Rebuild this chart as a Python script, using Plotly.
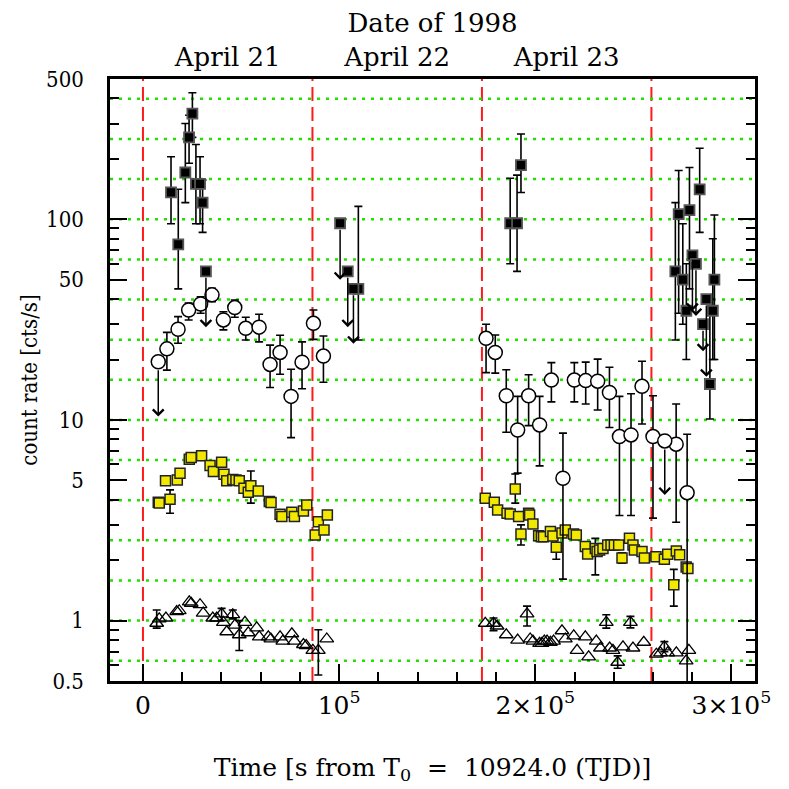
import math
import plotly.graph_objects as go

# ---- data ----
# black squares with error bars
blk_x = [14300, 18000, 21600, 23500, 25200, 27000, 29100, 30400, 109800,
         187200, 190700, 192700,
         271400, 273100, 275200, 277000, 278600, 283800, 289000, 290500, 291300]
blk_y = [136, 75, 171, 256, 336, 150, 150, 121, 45,
         95.5, 95.5, 186,
         55, 106, 50, 35, 111, 141, 15.1, 35, 50]
blk_lo = [95, 45, 121, 190, 256, 95, 95, 86, 25,
          60, 55, 136,
          25, 34, 30, 20, 45, 86, 10.1, 20, 20]
blk_hi = [205, 141, 300, 330, 427, 236, 205, 157, 116,
          160, 166, 266,
          121, 175, 95, 60, 181, 226, 40, 80, 105]
# black squares that are upper limits: x, value, arrow tip
blk_ul_x = [32100, 100500, 104400, 107300, 280100, 281900, 285500, 287200]
blk_ul_y = [55, 95.5, 55, 45, 66, 60, 30, 40]
blk_ul_to = [29, 50, 29, 24, 35, 33, 22, 16.4]

# open circles
cir_x = [12200, 17900, 23300, 29400, 35200, 41000, 46800, 52400, 59200, 64800,
         69900, 75500, 81100, 86900, 92000,
         174900, 179600, 185200, 191000, 196600, 202200, 208200, 214100, 219900,
         225700, 231800, 237800, 242900, 248800, 254400, 260000, 271800, 277400]
cir_y = [22.6, 28.3, 35.3, 37.8, 42, 31.5, 36.3, 28.6, 29, 18.9,
         21.7, 13.1, 19.4, 30.3, 20.8,
         25.5, 21.7, 13.2, 8.91, 13.2, 9.44, 15.8, 5.12, 15.8,
         15.7, 15.6, 13.7, 8.26, 8.42, 14.7, 8.26, 7.57, 4.34]
cir_lo = [17.7, 24.1, 31.5, 34.0, 38.8, 28.1, 32.5, 25, 24.5, 14.5,
          16.9, 8.16, 14.3, 25.2, 15.4,
          17.2, 17.1, 8.68, 5.43, 9.37, 5.9, 12.3, 1.61, 12.3,
          12.0, 11.2, 9.16, 3.34, 3.34, 9.55, 3.24, 3.09, 0.45]
cir_hi = [27.3, 32.7, 38.2, 41.1, 45.3, 34.6, 39.6, 32.5, 33.6, 23.6,
          26.4, 17.9, 24.5, 35.3, 26.2,
          30, 26.5, 17.8, 13.1, 16.8, 13.1, 19.3, 8.59, 19.3,
          19.4, 20.1, 18.3, 13.1, 13.5, 19.6, 13.2, 12.0, 8.49]
cir_ul_x = [7800, 266000]
cir_ul_y = [19.5, 7.86]
cir_ul_to = [10.4, 4.23]

# yellow squares (None = no visible error bar)
yel_x = [7800, 8300, 11500, 13800, 17500, 18900, 23600, 24600, 29900, 34200,
         35900, 40100, 41300, 42700, 45800, 47400, 49100, 51500, 53700, 55000,
         58800, 64400, 65300, 69900, 70800, 75900, 77200, 81800, 83500, 87800,
         89400, 92300, 94000,
         174500, 179100, 180800, 185600, 187200, 189800, 191500, 192700, 196600, 197100,
         198800, 201700, 203100, 204200, 207700, 209000, 210700, 213600, 215300, 219500,
         220900, 225500, 226700, 230600, 231500, 232800, 234500, 236900, 238600, 240300,
         242500, 244200, 248000, 249800, 250500, 254400, 255600, 261500, 265800, 267500,
         270600, 271900, 273600, 276900, 277800]
yel_y = [3.89, 3.85, 4.97, 4.03, 5.02, 5.42, 6.37, 6.49, 6.62, 5.92,
         5.53, 6.15, 5.36, 4.97, 5.05, 5.02, 4.97, 4.57, 4.36, 4.7,
         4.43, 3.92, 3.88, 3.39, 3.30, 3.47, 3.30, 3.52, 3.77, 2.67,
         3.11, 2.83, 3.36,
         4.07, 3.89, 3.56, 3.43, 3.40, 4.53, 3.30, 2.70, 3.43, 3.36,
         3.03, 2.65, 2.62, 2.62, 2.78, 2.64, 2.32, 2.73, 2.83, 2.70,
         2.67, 2.34, 2.15, 2.29, 2.21, 2.25, 2.29, 2.38, 2.38, 2.38,
         2.38, 2.05, 2.57, 2.38, 2.25, 2.21, 2.05, 2.08, 2.02, 2.14,
         1.51, 2.22, 2.13, 1.85, 1.82]
yel_lo = [None] * len(yel_x)
yel_hi = [None] * len(yel_x)
yel_bars = {13800: (3.43, 4.48), 55000: (3.85, 5.57), 189800: (3.85, 5.38),
            192700: (2.38, 3.0), 210700: (2.02, 2.6), 230600: (1.69, 2.57),
            244200: (1.93, 2.18), 270600: (1.18, 1.80)}
for i, xv in enumerate(yel_x):
    if xv in yel_bars:
        yel_lo[i], yel_hi[i] = yel_bars[xv]

# open triangles
tri_x = [7000, 8300, 11700, 17200, 18500, 23600, 24600, 29100, 30700, 35600,
         37600, 40100, 41000, 42700, 45800, 46900, 49100, 52000, 53700, 58000,
         59300, 63900, 65200, 69900, 71300, 75900, 77200, 81800, 83200, 86600,
         89400, 93700,
         174500, 178700, 180500, 185200, 191000, 195800, 197400, 198800, 202200, 203400,
         204600, 206000, 207700, 209300, 213600, 215300, 219600, 221300, 225500, 227200,
         231100, 233200, 236200, 237900, 239600, 242000, 244700, 248500, 249800, 255300,
         261700, 263800, 265800, 267500, 271900, 276900, 278300]
tri_y = [0.97, 1.02, 1.03, 1.11, 1.12, 1.24, 1.22, 1.20, 1.09, 1.03,
         1.03, 1.08, 0.98, 0.88, 1.07, 0.95, 0.85, 0.98, 0.87, 0.92,
         0.83, 0.83, 0.81, 0.83, 0.79, 0.86, 0.79, 0.76, 0.75, 0.71,
         0.71, 0.81,
         0.97, 0.97, 0.94, 0.85, 0.80, 1.08, 0.81, 0.79, 0.77, 0.77,
         0.79, 0.79, 0.78, 0.79, 0.89, 0.81, 0.84, 0.71, 0.83, 0.66,
         0.79, 0.73, 0.98, 0.73, 0.71, 0.62, 0.74, 0.98, 0.73, 0.78,
         0.68, 0.69, 0.74, 0.69, 0.69, 0.63, 0.71]
tri_lo = [None] * len(tri_x)
tri_hi = [None] * len(tri_x)
tri_bars = {7000: (0.917, 1.13), 40100: (1.0, 1.15), 45800: (1.02, 1.13),
            49100: (0.71, 1.0), 89400: (0.536, 0.90), 178700: (0.89, 1.03),
            195800: (0.94, 1.18), 236200: (0.917, 1.07), 242000: (0.579, 0.667),
            248500: (0.92, 1.05), 265800: (0.70, 0.786)}
for i, xv in enumerate(tri_x):
    if xv in tri_bars:
        tri_lo[i], tri_hi[i] = tri_bars[xv]

day_edges = [0, 86400, 172800, 259200]
day_mid = [43200, 129600, 216000]
day_names = ['April 21', 'April 22', 'April 23']
grid_y = [0.631, 1, 1.585, 2.512, 3.981, 6.31, 10, 15.85, 25.12, 39.81,
          63.1, 100, 158.5, 251.2, 398.1]
y_ticks = [0.5, 1, 5, 10, 50, 100, 500]
y_labels = ['0.5', '1', '5', '10', '50', '100', '500']
y_minor = [0.6, 0.7, 0.8, 0.9, 2, 3, 4, 6, 7, 8, 9,
           20, 30, 40, 60, 70, 80, 90, 200, 300, 400]

SERIF = 'DejaVu Serif, Liberation Serif, serif'
CONDENSED = 'DejaVu Serif Condensed, DejaVu Serif, serif'
X_RANGE = [-16800, 312000]

fig = go.Figure()

# green dotted reference lines
gx, gy = [], []
for g in grid_y:
    gx += [X_RANGE[0], X_RANGE[1], None]
    gy += [g, g, None]
fig.add_trace(go.Scatter(x=gx, y=gy, mode='lines', hoverinfo='skip',
                         line=dict(color='#22e000', width=2.5, dash='3px,6px')))


def add_series(xs, ys, lo, hi, marker):
    ex, ey, ep, em = [], [], [], []
    for xv, yv, l, h in zip(xs, ys, lo, hi):
        if l is None:
            continue
        ex.append(xv)
        ey.append(yv)
        ep.append(h - yv)
        em.append(yv - l)
    fig.add_trace(go.Scatter(x=ex, y=ey, mode='markers', hoverinfo='skip',
                             marker=dict(color='rgba(0,0,0,0)', size=1),
                             error_y=dict(type='data', array=ep, arrayminus=em,
                                          color='black', thickness=1.6, width=4)))
    fig.add_trace(go.Scatter(x=xs, y=ys, mode='markers', marker=marker))


def add_limits(xs, ys, tos, off):
    for xv, yv, t in zip(xs, ys, tos):
        fig.add_annotation(x=xv, y=math.log10(t), ax=xv, ay=math.log10(yv),
                           xref='x', yref='y', axref='x', ayref='y', text='',
                           showarrow=True, arrowhead=4, arrowsize=1.4,
                           arrowwidth=1.5, arrowcolor='black', startstandoff=off)


add_series(tri_x, tri_y, tri_lo, tri_hi,
           dict(symbol='triangle-up-open', size=12, color='black', line=dict(width=1.3)))
add_series(yel_x, yel_y, yel_lo, yel_hi,
           dict(symbol='square', size=10, color='#f2e800', line=dict(color='#222', width=1.5)))
add_series(cir_x, cir_y, cir_lo, cir_hi,
           dict(symbol='circle', size=14, color='white', line=dict(color='black', width=1.5)))
add_series(blk_x, blk_y, blk_lo, blk_hi,
           dict(symbol='square', size=10, color='black', line=dict(color='#555', width=1.8)))
fig.add_trace(go.Scatter(x=blk_ul_x, y=blk_ul_y, mode='markers',
                         marker=dict(symbol='square', size=10, color='black',
                                     line=dict(color='#555', width=1.8))))
fig.add_trace(go.Scatter(x=cir_ul_x, y=cir_ul_y, mode='markers',
                         marker=dict(symbol='circle', size=14, color='white',
                                     line=dict(color='black', width=1.5))))
add_limits(blk_ul_x, blk_ul_y, blk_ul_to, 5)
add_limits(cir_ul_x, cir_ul_y, cir_ul_to, 7)

# invisible trace so the top axis is drawn
fig.add_trace(go.Scatter(x=day_mid, y=[1, 1, 1], xaxis='x2', mode='markers',
                         marker=dict(opacity=0), hoverinfo='skip'))

for d in day_edges:
    fig.add_shape(type='line', x0=d, x1=d, y0=0, y1=1, xref='x', yref='paper',
                  line=dict(color='#ff1a1a', width=2, dash='14px,6px'), layer='below')

# the page body adds an 8px offset, so margins are shifted to compensate
fig.update_layout(
    width=789, height=789, showlegend=False,
    paper_bgcolor='white', plot_bgcolor='white',
    margin=dict(l=102, r=42, t=71, b=116, autoexpand=False),
    font=dict(family=SERIF, size=21, color='black'),
    xaxis=dict(range=X_RANGE, tickvals=[0, 100000, 200000, 300000],
               ticktext=['0', '10<sup>5</sup>', '2×10<sup>5</sup>', '3×10<sup>5</sup>'],
               tickfont=dict(family=SERIF, size=25), automargin=False,
               ticks='inside', ticklen=17, tickwidth=1.8, tickcolor='black',
               minor=dict(tickmode='array',
                          tickvals=[20000, 40000, 60000, 80000, 120000, 140000, 160000,
                                    180000, 220000, 240000, 260000, 280000, 300000],
                          ticks='inside', ticklen=9, tickwidth=1.8, tickcolor='black'),
               showline=True, linewidth=2.5, linecolor='black', mirror=True,
               showgrid=False, zeroline=False,
               title=dict(text='Time [s from T<sub>0</sub> &nbsp;=&nbsp; 10924.0 (TJD)]',
                          font=dict(family=SERIF, size=25), standoff=40)),
    xaxis2=dict(overlaying='x', side='top', range=X_RANGE, tickvals=day_mid,
                ticktext=day_names, ticks='', showgrid=False, zeroline=False,
                tickfont=dict(family=SERIF, size=26), automargin=False,
                ticklabelstandoff=7, showline=False,
                title=dict(text='Date of 1998', font=dict(family=SERIF, size=26),
                           standoff=4)),
    yaxis=dict(type='log', range=[math.log10(0.5), math.log10(500)],
               tickvals=y_ticks, ticktext=y_labels,
               tickfont=dict(family=CONDENSED, size=22), automargin=False,
               ticks='inside', ticklen=17, tickwidth=1.8, tickcolor='black',
               minor=dict(tickmode='array', tickvals=y_minor,
                          ticks='inside', ticklen=9, tickwidth=1.8, tickcolor='black'),
               showline=True, linewidth=2.5, linecolor='black', mirror='ticks',
               showgrid=False, zeroline=False, ticklabelstandoff=19,
               title=dict(text='count rate [cts/s]', font=dict(family=CONDENSED, size=22),
                          standoff=3)),
)

fig.write_html('out.html')
